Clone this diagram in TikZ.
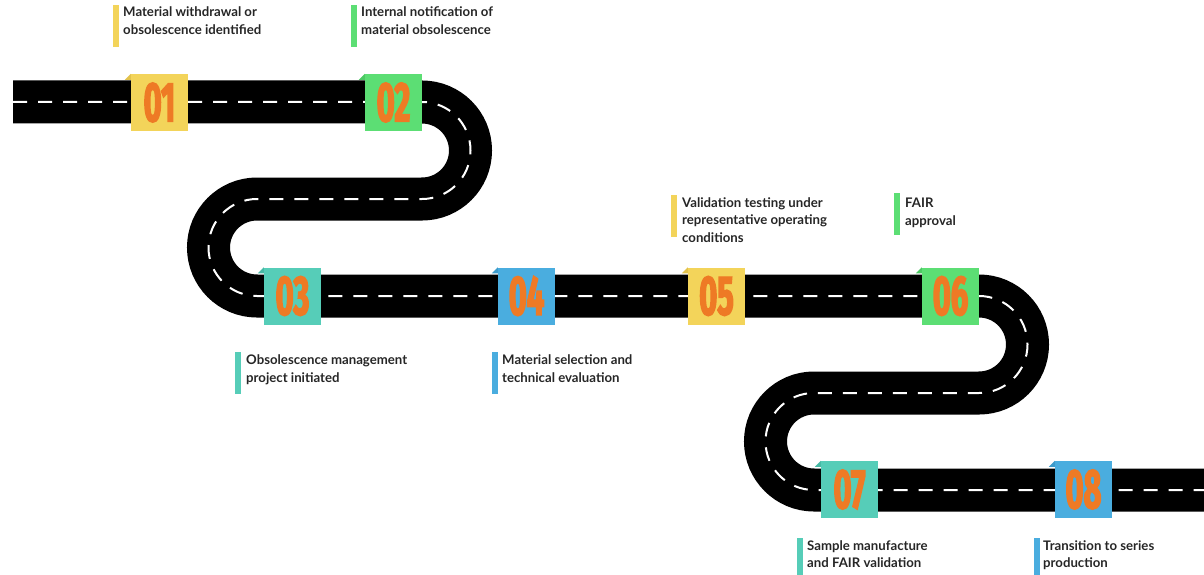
\documentclass[tikz,border=0pt]{standalone}
\usepackage{fontspec}
\setmainfont{Lato}
\newfontfamily\numfont{Fira Sans}[FakeStretch=0.55,FakeBold=2.5]
\definecolor{cyel}{HTML}{F3D45A}
\definecolor{cyeld}{HTML}{E2C24C}
\definecolor{cgrn}{HTML}{5CDE74}
\definecolor{cgrnd}{HTML}{4CC964}
\definecolor{ctea}{HTML}{56CDB8}
\definecolor{cnead}{HTML}{47B9A5}
\definecolor{cblu}{HTML}{4AADDF}
\definecolor{cblud}{HTML}{3D9BCB}
\definecolor{corg}{HTML}{EE7A25}
\definecolor{ctxt}{HTML}{262626}
\begin{document}
\begin{tikzpicture}[x=1pt,y=-1pt,
  road/.style={draw=black,line width=43pt},
  lane/.style={draw=white,line width=2pt,dash pattern=on 14pt off 11pt},
  numbox/.style={minimum size=57pt,inner sep=0pt,text=corg,
    font=\numfont\bfseries\fontsize{56}{56}\selectfont},
  lab/.style={anchor=base west,inner sep=0pt,text=ctxt,
    font=\bfseries\fontsize{13.2}{18}\selectfont}]
\useasboundingbox (0,0) rectangle (1204,575);
% road
\path[road] (13,102) -- (422,102) arc[start angle=-90,end angle=90,radius=48.5]
  -- (257,199) arc[start angle=270,end angle=90,radius=48.5]
  -- (979,296) arc[start angle=-90,end angle=90,radius=48.5]
  -- (814,393) arc[start angle=270,end angle=90,radius=48.5]
  -- (1204,490);
\path[lane] (13,102) -- (422,102) arc[start angle=-90,end angle=90,radius=48.5]
  -- (257,199) arc[start angle=270,end angle=90,radius=48.5]
  -- (979,296) arc[start angle=-90,end angle=90,radius=48.5]
  -- (814,393) arc[start angle=270,end angle=90,radius=48.5]
  -- (1204,490);
% markers
\node[numbox,fill=cyel] (n1) at (159.5,102.5) {01};
\node[numbox,fill=cgrn] (n2) at (393.5,102.5) {02};
\node[numbox,fill=ctea] (n3) at (292.5,296) {03};
\node[numbox,fill=cblu] (n4) at (526.5,296) {04};
\node[numbox,fill=cyel] (n5) at (716.5,296) {05};
\node[numbox,fill=cgrn] (n6) at (950.5,296) {06};
\node[numbox,fill=ctea] (n7) at (849.5,489.5) {07};
\node[numbox,fill=cblu] (n8) at (1083.5,489.5) {08};
\foreach \n/\c in {n1/cyeld,n2/cgrnd,n3/cnead,n4/cblud,n5/cyeld,n6/cgrnd,n7/cnead,n8/cblud}{
  \fill[\c] ([shift={(-6,6)}]\n.north west) -- (\n.north west) -- ([shift={(0,6)}]\n.north west) -- cycle;
}
% labels
\fill[cyel] (113,5) rectangle (119,47);
\node[lab] (t1a) at (123,17) {Material withdrawal or};
\node[lab] (t1b) at (123,34.5) {obsolescence identified};
\fill[cgrn] (351,5) rectangle (357,47);
\node[lab] (t2a) at (361,17) {Internal notification of};
\node[lab] (t2b) at (361,34.5) {material obsolescence};
\fill[ctea] (235,352) rectangle (241,394);
\node[lab] (t3a) at (246,364) {Obsolescence management};
\node[lab] (t3b) at (246,382) {project initiated};
\fill[cblu] (492,352) rectangle (498,394);
\node[lab] (t4a) at (502,364) {Material selection and};
\node[lab] (t4b) at (502,382) {technical evaluation};
\fill[cyel] (671,195) rectangle (677,237);
\node[lab] (t5a) at (682,207) {Validation testing under};
\node[lab] (t5b) at (682,224.5) {representative operating};
\node[lab] (t5c) at (682,242) {conditions};
\fill[cgrn] (894,193) rectangle (900,235);
\node[lab] (t6a) at (905,207) {FAIR};
\node[lab] (t6b) at (905,225) {approval};
\fill[ctea] (797,538) rectangle (803,575);
\node[lab] (t7a) at (807,550) {Sample manufacture};
\node[lab] (t7b) at (807,567) {and FAIR validation};
\fill[cblu] (1034,538) rectangle (1040,575);
\node[lab] (t8a) at (1043,550) {Transition to series};
\node[lab] (t8b) at (1043,567) {production};
\end{tikzpicture}
\end{document}
